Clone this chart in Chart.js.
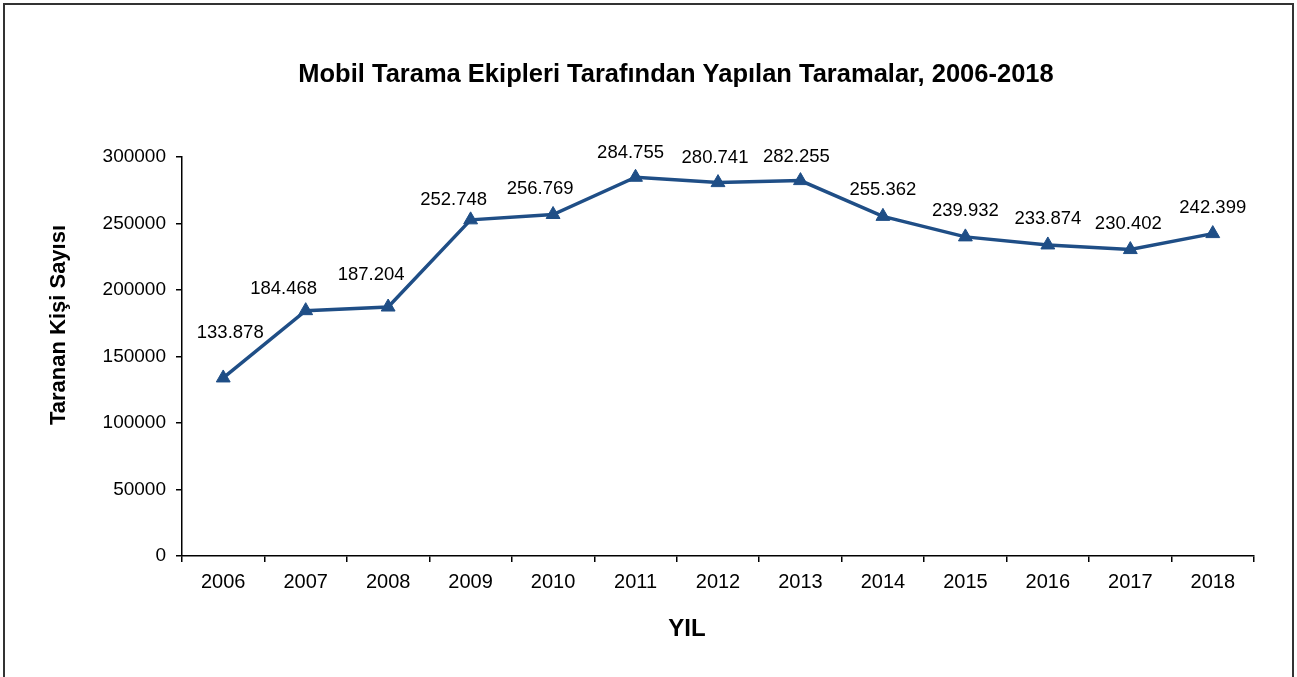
<!DOCTYPE html>
<html lang="tr">
<head>
<meta charset="utf-8">
<script src="https://cdn.jsdelivr.net/npm/chart.js@4/dist/chart.umd.min.js"></script>
<style>
  html, body { margin: 0; padding: 0; background: #fff; overflow: hidden; }
  #frame { position: absolute; left: 3px; top: 3px; width: 1291px; height: 720px; border: 2px solid #333; box-sizing: border-box; }
  #wrap  { position: absolute; left: 0; top: 0; width: 1297px; height: 677px; }
</style>
</head>
<body>
<div id="frame"></div>
<div id="wrap"><canvas id="c"></canvas></div>
<script>
// ── Données
const years  = ['2006','2007','2008','2009','2010','2011','2012','2013','2014','2015','2016','2017','2018'];
const values = [133878, 184468, 187204, 252748, 256769, 284755, 280741, 282255, 255362, 239932, 233874, 230402, 242399];
const yTicks = [0, 50000, 100000, 150000, 200000, 250000, 300000];

// ── Décalages des étiquettes (px, par rapport au point)
const lblDx = [7, -22, -17, -17, -13, -5, -3, -4, 0, 0, 0, -2, 0];
const lblDy = [-45, -22, -32, -20, -26, -24, -25, -24, -26, -26, -26, -26, -26];

const FONT  = 'Liberation Sans, Arial, sans-serif';
const LINE  = '#1f4e86';
const TITLE = 'Mobil Tarama Ekipleri Tarafından Yapılan Taramalar, 2006-2018';

function fmtTR(v) { return String(v).replace(/\B(?=(\d{3})+(?!\d))/g, '.'); }

// ── Titre, étiquettes de valeurs, titres d'axes
const labelsPlugin = {
  id: 'labels',
  afterDatasetsDraw(chart) {
    const ctx  = chart.ctx;
    const meta = chart.getDatasetMeta(0);
    ctx.save();
    ctx.fillStyle = '#000';
    ctx.textAlign = 'center';

    ctx.font = '18.5px ' + FONT;
    ctx.textBaseline = 'middle';
    meta.data.forEach((pt, i) => {
      ctx.fillText(fmtTR(values[i]), pt.x + lblDx[i], pt.y + lblDy[i]);
    });

    ctx.textBaseline = 'alphabetic';
    ctx.font = 'bold 25.5px ' + FONT;
    ctx.fillText(TITLE, 676, 82);

    ctx.font = 'bold 24px ' + FONT;
    ctx.fillText('YIL', 687, 636);

    ctx.font = 'bold 22px ' + FONT;
    ctx.translate(65, 325);
    ctx.rotate(-Math.PI / 2);
    ctx.fillText('Taranan Kişi Sayısı', 0, 0);
    ctx.restore();
  }
};

new Chart(document.getElementById('c'), {
  type: 'line',
  data: {
    labels: years,
    datasets: [{
      data: values,
      borderColor: LINE, backgroundColor: LINE,
      borderWidth: 3.5, tension: 0,
      pointStyle: 'triangle', pointRadius: 8, pointHoverRadius: 8,
      pointBorderWidth: 1, pointBorderColor: LINE, pointBackgroundColor: LINE
    }]
  },
  options: {
    responsive: true, maintainAspectRatio: false, animation: false,
    layout: { padding: { left: 0, right: 43, top: 157, bottom: 0 } },
    plugins: {
      legend: { display: false },
      tooltip: { enabled: false },
      title: { display: false }
    },
    scales: {
      x: {
        offset: true,
        afterFit: s => { s.height = 121; },
        grid: { offset: true, drawOnChartArea: false, drawTicks: true, tickLength: 6, color: '#000', lineWidth: 1.5 },
        border: { color: '#000', width: 1.5 },
        ticks: { color: '#000', font: { family: FONT, size: 20 }, padding: 8, maxRotation: 0, autoSkip: false }
      },
      y: {
        min: 0, max: 300000,
        afterFit: s => { s.width = 182; },
        afterBuildTicks: s => { s.ticks = yTicks.map(v => ({ value: v })); },
        grid: { drawOnChartArea: false, drawTicks: true, tickLength: 6, color: '#000', lineWidth: 1.5 },
        border: { color: '#000', width: 1.5 },
        ticks: { color: '#000', font: { family: FONT, size: 19 }, padding: 10, callback: v => String(v) }
      }
    }
  },
  plugins: [labelsPlugin]
});
</script>
</body>
</html>
